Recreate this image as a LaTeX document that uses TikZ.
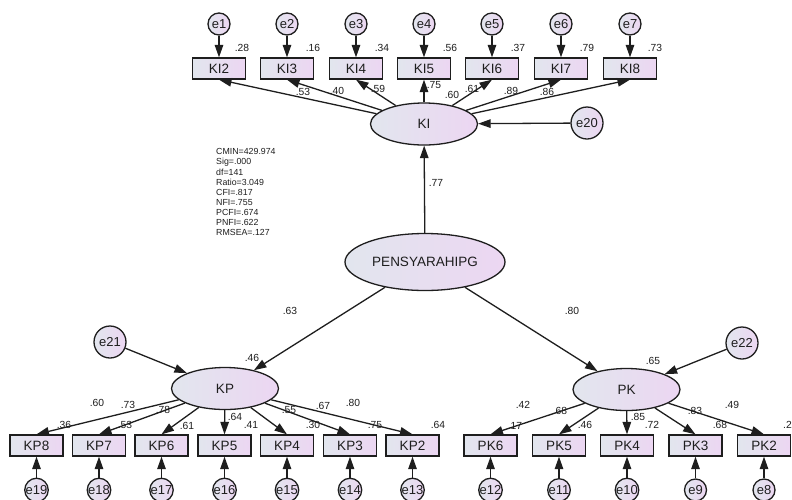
\documentclass[tikz,border=0pt]{standalone}
\usepackage{fontspec}
\setmainfont{Liberation Sans}
\usetikzlibrary{arrows.meta,shapes.geometric}
\definecolor{lc}{RGB}{226,230,238}
\definecolor{rc}{RGB}{236,214,242}
\definecolor{ln}{RGB}{30,30,30}
\begin{document}
\begin{tikzpicture}[x=1pt,y=-1pt,
  obs/.style={rectangle, draw=ln, line width=1.3pt, left color=lc, right color=rc, minimum width=53pt, minimum height=21pt, inner sep=0pt, font=\fontsize{13.5}{15}\selectfont, text=ln},
  lat/.style={ellipse, draw=ln, line width=1.3pt, left color=lc, right color=rc, minimum width=107pt, minimum height=42pt, inner sep=0pt, font=\fontsize{13.5}{15}\selectfont, text=ln},
  err/.style={circle, draw=ln, line width=1.3pt, left color=lc, right color=rc, minimum size=22pt, inner sep=0pt, font=\fontsize{13}{14}\selectfont, text=ln},
  bigerr/.style={err, minimum size=32pt},
  arr/.style={draw=ln, line width=1.3pt, -{Triangle[length=12.5pt,width=8.5pt]}},
  num/.style={font=\fontsize{10.3}{11}\selectfont, inner sep=0pt, text=ln},
]
\clip (0,0) rectangle (792,499);
\fill[white] (0,0) rectangle (792,499);

% ---- KI block ----
\foreach \n/\x/\i in {1/219/2, 2/287/3, 3/356/4, 4/424/5, 5/492/6, 6/561/7, 7/630/8}{
  \node[err] (e\n) at (\x,24) {e\n};
  \node[obs] (KI\i) at (\x,68.5) {KI\i};
  \draw[arr] (e\n) -- (KI\i);
}
\node[lat] (KI) at (424,124) {KI};
\node[bigerr] (e20) at (587,123) {e20};
\foreach \i in {2,...,8}{ \draw[arr] (KI) -- (KI\i.south); }
\draw[arr] (e20) -- (KI);

% ---- second order ----
\node[lat, minimum width=160pt, minimum height=57pt] (PEN) at (425,262) {PENSYARAHIPG};
\node[lat] (KP) at (225,388.5) {KP};
\node[lat] (PK) at (626.5,389.5) {PK};
\node[bigerr] (e21) at (110,342) {e21};
\node[bigerr] (e22) at (742,343) {e22};
\draw[arr] (PEN) -- (KI);
\draw[arr] (PEN) -- (KP);
\draw[arr] (PEN) -- (PK);
\draw[arr] (e21) -- (KP);
\draw[arr] (e22) -- (PK);

% ---- KP block ----
\foreach \i/\x/\e in {8/36.5/19, 7/99/18, 6/161.5/17, 5/224.5/16, 4/287/15, 3/350/14, 2/412.5/13}{
  \node[obs] (KP\i) at (\x,445.5) {KP\i};
  \node[err] (e\e) at (\x,490) {e\e};
  \draw[arr] (KP) -- (KP\i.north);
  \draw[arr] (e\e) -- (KP\i);
}
% ---- PK block ----
\foreach \i/\x/\e in {6/490.5/12, 5/559/11, 4/627/10, 3/695.5/9, 2/764/8}{
  \node[obs] (PK\i) at (\x,445.5) {PK\i};
  \node[err] (e\e) at (\x,490) {e\e};
  \draw[arr] (PK) -- (PK\i.north);
  \draw[arr] (e\e) -- (PK\i);
}

% ---- fit statistics ----
\node[anchor=north west, align=left, inner sep=0pt, text=ln, font=\fontsize{8.8}{10.1}\selectfont] (fitstats) at (216,148.5)
 {CMIN=429.974\\Sig=.000\\df=141\\Ratio=3.049\\CFI=.817\\NFI=.755\\PCFI=.674\\PNFI=.622\\RMSEA=.127};

% ---- estimates ----
\foreach \t/\x/\y in {.28/242/48, .16/313/48, .34/382/48, .56/450/48, .37/518/48, .79/587/48, .73/655/48,
  .53/303/92, .40/337/91, .59/378/89, .75/434/85, .60/452/95, .61/472/89, .89/511/91, .86/547/92,
  .77/436/183, .63/290/311, .80/572/311, .46/252/358, .65/653/361,
  .60/97/403, .73/128/405, .78/163/410, .64/235/417, .55/289/410, .67/323/406, .80/353/403,
  .36/64/425, .53/125/425, .61/187/426, .41/251/425, .30/313/425, .75/375/425, .64/438/425,
  .42/523/405, .68/560/411, .85/638/417, .83/695/411, .49/732/405,
  .17/515/426, .46/585/425, .72/652/425, .68/720/425}{
  \node[num] at (\x,\y) {\t};
}
\node[num, anchor=west] at (783,425) {.24};
\end{tikzpicture}
\end{document}
